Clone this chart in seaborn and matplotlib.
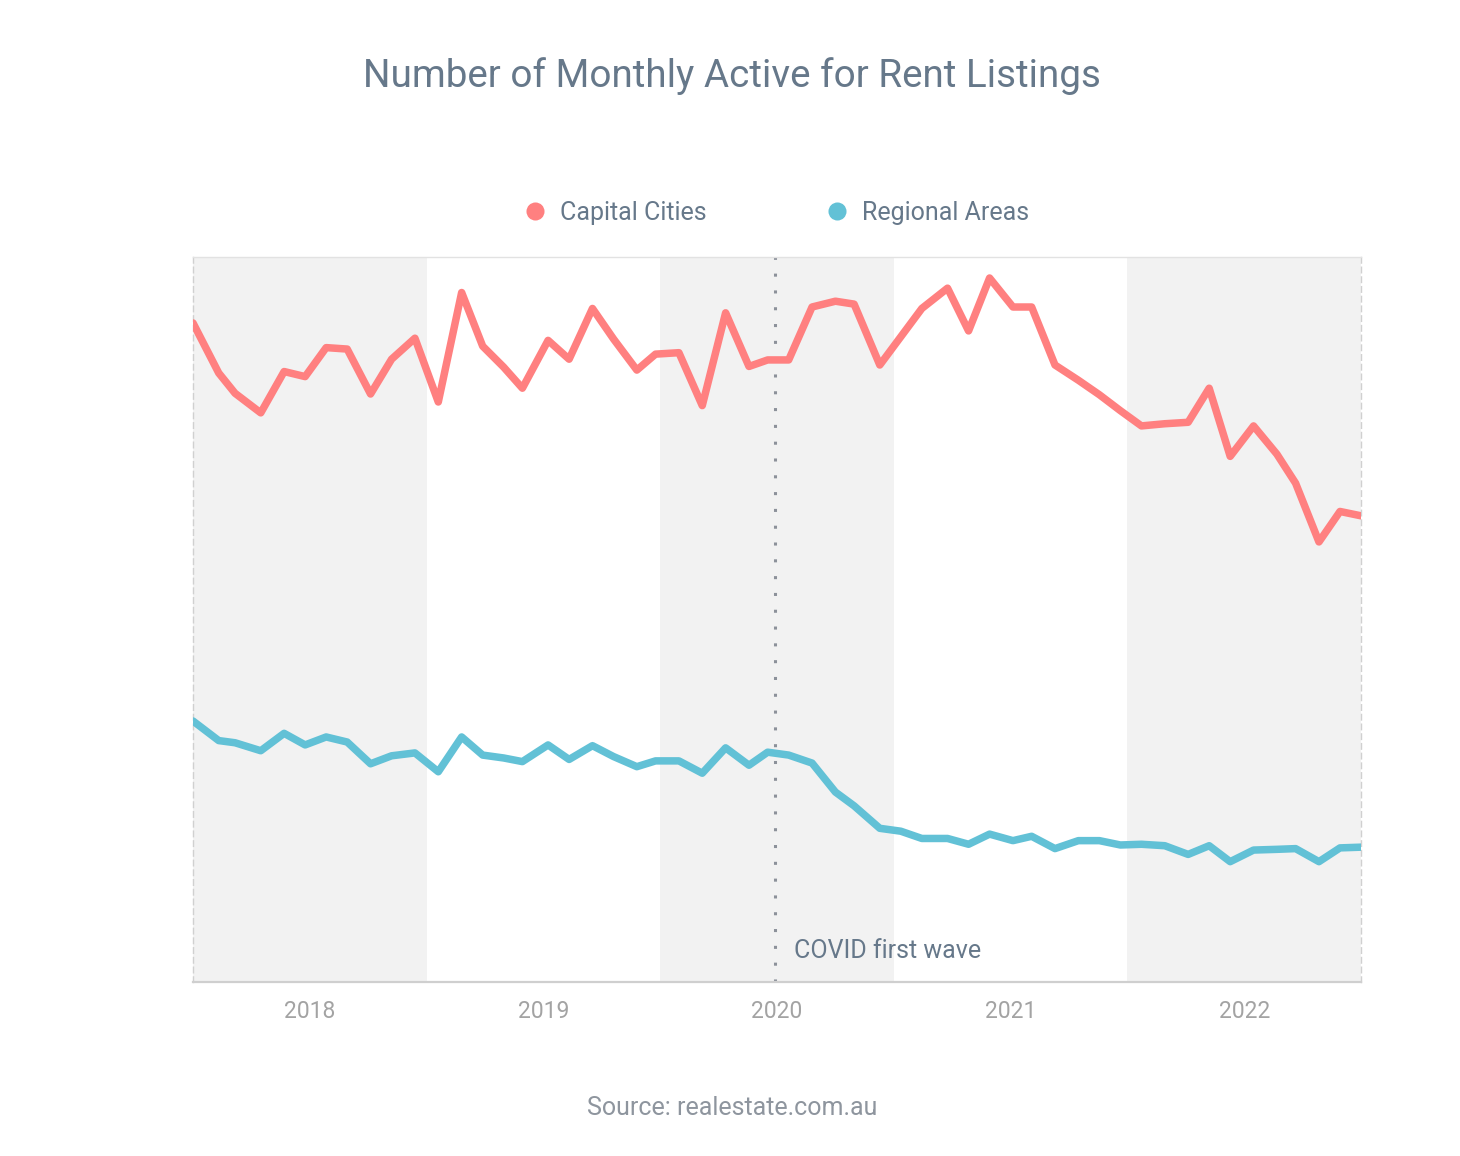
import numpy as np
import pandas as pd
import matplotlib
matplotlib.use("Agg")
import matplotlib.pyplot as plt
from matplotlib.lines import Line2D
import seaborn as sns

# Data (x in decimal years, y in thousands of listings)
period = [
    2017.50, 2017.61, 2017.68, 2017.79, 2017.89, 2017.98, 2018.07, 2018.16,
    2018.26, 2018.35, 2018.45, 2018.55, 2018.65, 2018.74, 2018.83, 2018.91,
    2019.02, 2019.11, 2019.21, 2019.30, 2019.40, 2019.48, 2019.58, 2019.68,
    2019.78, 2019.88, 2019.96, 2020.05, 2020.15, 2020.25, 2020.33, 2020.44,
    2020.53, 2020.62, 2020.73, 2020.82, 2020.91, 2021.01, 2021.09, 2021.19,
    2021.29, 2021.38, 2021.47, 2021.56, 2021.66, 2021.76, 2021.85, 2021.94,
    2022.04, 2022.14, 2022.22, 2022.32, 2022.41, 2022.50,
]
capital_cities = [
    90.9, 84.0, 81.2, 78.5, 84.2, 83.5, 87.5, 87.3,
    81.1, 85.9, 88.8, 80.0, 95.1, 87.7, 84.8, 81.9,
    88.5, 85.9, 92.9, 88.7, 84.4, 86.6, 86.8, 79.5,
    92.3, 84.9, 85.8, 85.8, 93.1, 93.9, 93.5, 85.1,
    89.0, 92.9, 95.7, 89.8, 97.1, 93.1, 93.1, 85.1,
    83.0, 81.0, 78.8, 76.7, 77.0, 77.2, 81.9, 72.5,
    76.7, 72.8, 68.8, 60.7, 64.9, 64.3,
]
regional_areas = [
    36.0, 33.3, 33.0, 31.9, 34.3, 32.7, 33.8, 33.1,
    30.1, 31.2, 31.6, 29.0, 33.8, 31.3, 30.9, 30.4,
    32.7, 30.7, 32.6, 31.1, 29.7, 30.5, 30.5, 28.8,
    32.3, 29.9, 31.7, 31.3, 30.2, 26.2, 24.3, 21.2,
    20.8, 19.8, 19.8, 19.0, 20.4, 19.5, 20.1, 18.4,
    19.5, 19.5, 18.9, 19.0, 18.8, 17.6, 18.8, 16.6,
    18.2, 18.3, 18.4, 16.6, 18.5, 18.6,
]
series_names = ["Capital Cities", "Regional Areas"]
year_ticks = [2018, 2019, 2020, 2021, 2022]
shaded_years = [2018, 2020, 2022]
covid_x = 2019.99

colors = {"Capital Cities": "#ff8080", "Regional Areas": "#62c1d6"}
title_col = "#66788a"
tick_col = "#a3a3a3"

df = pd.concat([
    pd.DataFrame({"period": period, "listings": capital_cities, "series": series_names[0]}),
    pd.DataFrame({"period": period, "listings": regional_areas, "series": series_names[1]}),
])

sns.set_theme(style="white")
plt.rcParams["font.family"] = ["Roboto", "DejaVu Sans"]

fig = plt.figure(figsize=(14.6, 11.56), dpi=100)
ax = fig.add_axes([0.1322, 0.1505, 0.8, 0.6272])

# alternating year bands
for yr in shaded_years:
    ax.axvspan(yr - 0.5, yr + 0.5, color="#f2f2f2", zorder=0, lw=0)

sns.lineplot(data=df, x="period", y="listings", hue="series",
             palette=colors, linewidth=5.4, ax=ax, legend=False,
             solid_joinstyle="round", solid_capstyle="round", zorder=3)

ax.axvline(covid_x, color="#8c919a", lw=2.2, linestyle=(0, (1, 4.5)), zorder=2)
ax.annotate("COVID first wave", xy=(covid_x, 0), xycoords=("data", "axes fraction"),
            xytext=(14, 22), textcoords="offset points", va="center", ha="left",
            fontsize=18, color=title_col)

ax.set_xlim(2017.5, 2022.5)
ax.set_ylim(0, 100)
ax.set_xticks(year_ticks)
ax.set_xticklabels([str(y) for y in year_ticks])
ax.set_yticks([])
ax.set_xlabel("")
ax.set_ylabel("")
ax.tick_params(axis="x", length=0, pad=13, labelsize=16.5, labelcolor=tick_col)

for side in ["left", "right"]:
    ax.spines[side].set_color("#d0d0d0")
    ax.spines[side].set_linestyle((0, (4, 3)))
    ax.spines[side].set_linewidth(1)
ax.spines["bottom"].set_color("#cfcfcf")
ax.spines["bottom"].set_linewidth(1.6)
ax.spines["top"].set_color("#e2e2e2")
ax.spines["top"].set_linewidth(1)

fig.text(0.5015, 1 - 76 / 1156, "Number of Monthly Active for Rent Listings",
         ha="center", va="center", fontsize=27.8, color=title_col)

handles = [Line2D([], [], marker="o", linestyle="none", markersize=13,
                  markerfacecolor=colors[n], markeredgecolor="none") for n in series_names]
fig.legend(handles, series_names, loc="center", ncol=2,
           bbox_to_anchor=(776 / 1460, 1 - 213 / 1156), frameon=False,
           fontsize=18, labelcolor=title_col, handlelength=1.0,
           handletextpad=0.5, columnspacing=4.7)

fig.text(0.5015, 1 - 1108 / 1156, "Source: realestate.com.au",
         ha="center", va="center", fontsize=18, color="#8e959e")

fig.savefig("out.png", dpi=100, facecolor="white")
